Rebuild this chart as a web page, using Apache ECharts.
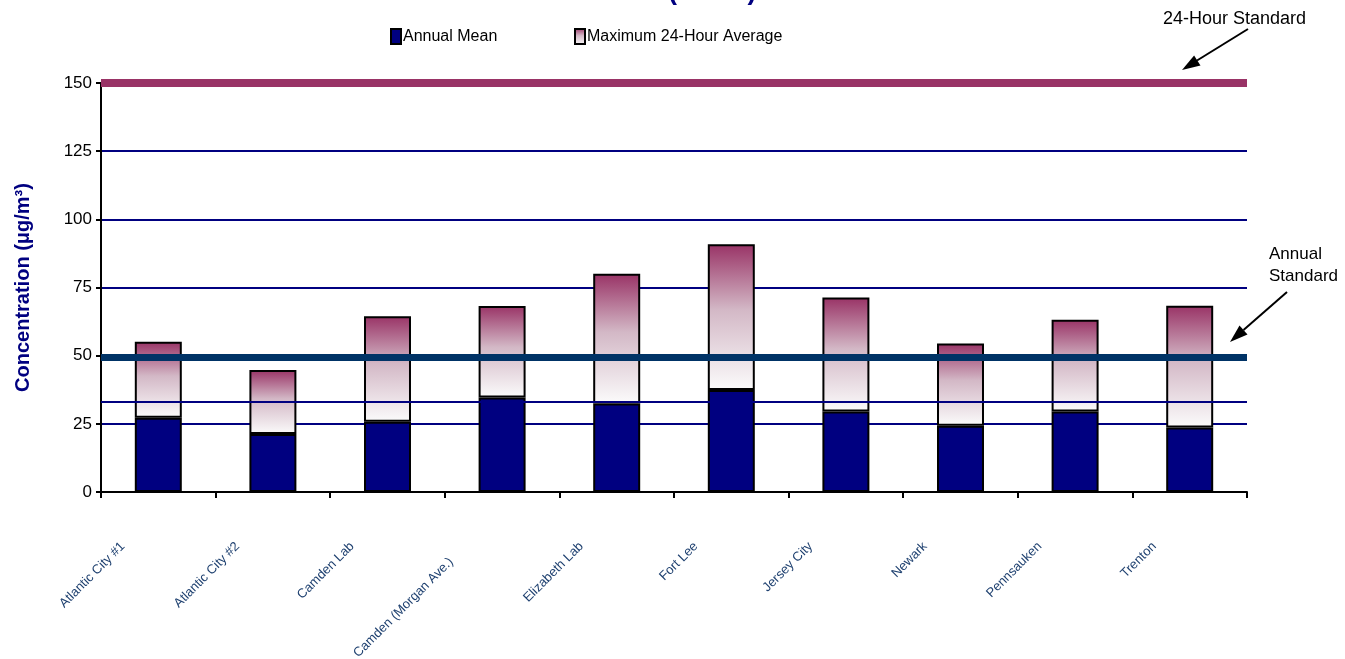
<!DOCTYPE html>
<html>
<head>
<meta charset="utf-8">
<script src="https://cdn.jsdelivr.net/npm/echarts@6/dist/echarts.min.js"></script>
<style>
html,body{margin:0;padding:0;background:#fff;}
#chart{width:1345px;height:659px;}
</style>
</head>
<body>
<div id="chart"></div>
<script>
var categories = ['Atlantic City #1','Atlantic City #2','Camden Lab','Camden (Morgan Ave.)','Elizabeth Lab','Fort Lee','Jersey City','Newark','Pennsauken','Trenton'];
var annualMean = [27.2, 21.3, 25.8, 34.7, 32.5, 37.4, 29.5, 24.3, 29.5, 23.7];
var max24Hour = [55.1, 44.7, 64.5, 68.2, 80.0, 90.9, 71.3, 54.5, 63.2, 68.3];
var standard24Hour = 150;
var standardAnnual = 49.5;
var otherLevel = 33;
var yTicks = [0, 25, 50, 75, 100, 125, 150];

var sans = '"Liberation Sans", Arial, sans-serif';

var chart = echarts.init(document.getElementById('chart'), null, {renderer: 'canvas'});

var catData = categories.map(function (c) {
  if (c === 'Camden (Morgan Ave.)') {
    return {value: c, textStyle: {padding: [0, 72, 0, 0]}};
  }
  return c;
});

var legendText = {color: '#000000', fontSize: 16, fontFamily: sans, padding: [0, 0, 0, -3]};

var option = {
  backgroundColor: '#ffffff',
  animation: false,
  title: {
    text: 'Inhalable Particulates (PM10) Concentrations',
    left: 'center',
    top: -27,
    textStyle: {color: '#000080', fontSize: 27, fontWeight: 'bold', fontFamily: sans}
  },
  legend: [
    {
      left: 390, top: 28, padding: 0, itemWidth: 10, itemHeight: 15,
      textStyle: legendText,
      data: [{name: 'Annual Mean', icon: 'rect'}]
    },
    {
      left: 574, top: 28, padding: 0, itemWidth: 10, itemHeight: 15,
      textStyle: legendText,
      data: [{name: 'Maximum 24-Hour Average', icon: 'rect'}]
    }
  ],
  grid: {left: 101, right: 98, top: 83, bottom: 167, outerBoundsMode: 'none', containLabel: false},
  xAxis: {
    type: 'category',
    data: catData,
    boundaryGap: true,
    axisLine: {lineStyle: {color: '#000000', width: 2}},
    axisTick: {show: true, length: 6, lineStyle: {color: '#000000', width: 2}},
    axisLabel: {
      rotate: 45,
      interval: 0,
      margin: 17,
      padding: [0, 50, 0, 0],
      color: '#1F4170',
      fontSize: 13,
      fontFamily: sans
    }
  },
  yAxis: {
    type: 'value',
    min: yTicks[0],
    max: yTicks[yTicks.length - 1],
    interval: 25,
    name: 'Concentration (μg/m³)',
    nameLocation: 'middle',
    nameGap: 68,
    nameRotate: 90,
    nameTextStyle: {color: '#000080', fontSize: 20, fontWeight: 'bold', fontFamily: sans},
    axisLine: {show: true, lineStyle: {color: '#000000', width: 2}},
    axisTick: {show: true, length: 5, lineStyle: {color: '#000000', width: 2}},
    axisLabel: {color: '#000000', fontSize: 17, fontFamily: sans, margin: 9},
    splitLine: {show: true, lineStyle: {color: '#000080', width: 2}}
  },
  series: [
    {
      name: 'Annual Mean',
      type: 'bar',
      stack: 'pm',
      barWidth: '41%',
      data: annualMean,
      itemStyle: {color: '#000080', borderColor: '#000000', borderWidth: 2},
      markLine: {
        silent: true,
        symbol: ['none', 'none'],
        label: {show: false},
        data: [
          {yAxis: otherLevel, lineStyle: {color: '#000080', width: 2, type: 'solid'}},
          {yAxis: standardAnnual, lineStyle: {color: '#003366', width: 7, type: 'solid'}},
          {yAxis: standard24Hour, lineStyle: {color: '#993366', width: 8, type: 'solid'}}
        ]
      }
    },
    {
      name: 'Maximum 24-Hour Average',
      type: 'bar',
      stack: 'pm',
      barWidth: '41%',
      data: max24Hour.map(function (v, i) { return +(v - annualMean[i]).toFixed(2); }),
      itemStyle: {
        borderColor: '#000000',
        borderWidth: 2,
        color: new echarts.graphic.LinearGradient(0, 0, 0, 1, [
          {offset: 0, color: '#993366'},
          {offset: 0.45, color: '#D3B8C6'},
          {offset: 1, color: '#FBFBFB'}
        ])
      }
    }
  ],
  graphic: [
    {type: 'text', left: 1163, top: 10, style: {text: '24-Hour Standard', fill: '#000000', font: '18px ' + sans}},
    {type: 'line', shape: {x1: 1248, y1: 29, x2: 1197, y2: 60.5}, style: {stroke: '#000000', lineWidth: 2}},
    {type: 'polygon', shape: {points: [[1182, 70], [1200.5, 65.6], [1194.1, 55.4]]}, style: {fill: '#000000'}},
    {type: 'text', left: 1269, top: 243, style: {text: 'Annual\nStandard', fill: '#000000', font: '17px ' + sans, lineHeight: 22}},
    {type: 'line', shape: {x1: 1287, y1: 292, x2: 1243.5, y2: 330.1}, style: {stroke: '#000000', lineWidth: 2}},
    {type: 'polygon', shape: {points: [[1230, 342], [1247.5, 334.6], [1239.5, 325.6]]}, style: {fill: '#000000'}}
  ]
};
chart.setOption(option);
</script>
</body>
</html>
